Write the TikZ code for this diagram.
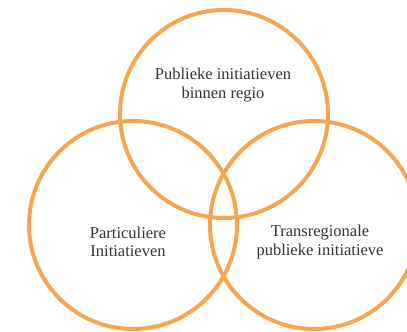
\documentclass[tikz,border=0pt]{standalone}
\usepackage{fontspec}
\setmainfont{Liberation Serif}
\usepackage{xcolor}
\usepackage{tikz}
\usetikzlibrary{positioning}
\definecolor{ringorange}{HTML}{F8A552}
\definecolor{textgray}{HTML}{333333}
\tikzstyle{ring} = [circle, draw=ringorange, line width=4pt, minimum size=208pt, inner sep=0pt]
\tikzstyle{label} = [align=center, text=textgray, font=\fontsize{16.5}{18.5}\selectfont]

\begin{document}
\begin{tikzpicture}[x=1pt,y=-1pt]
		\useasboundingbox (0,0) rectangle (407,332);
		\node (top) [ring] at (224,114) {};
		\node (left) [ring] at (133,225) {};
		\node (right) [ring] at (314,225) {};
		\node (toptext) [label] at (223,85) {Publieke initiatieven\\binnen regio};
		\node (lefttext) [label] at (128,242) {Particuliere\\Initiatieven};
		\node (righttext) [label] at (320,242) {Transregionale\\publieke initiatieve};
	\end{tikzpicture}
\end{document}
